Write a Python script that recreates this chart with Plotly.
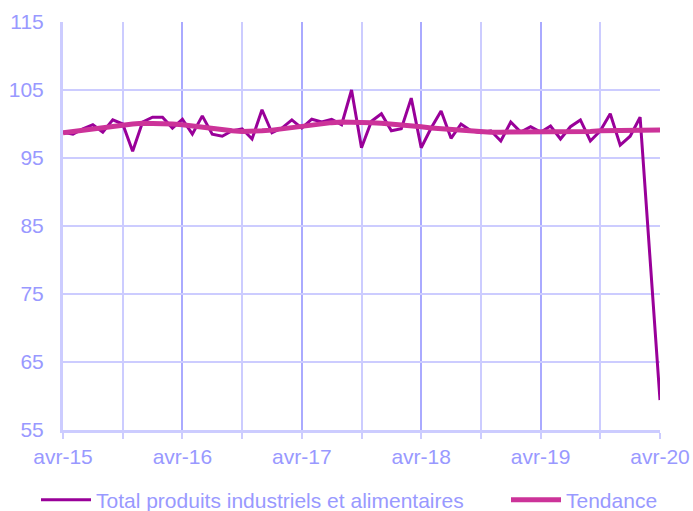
import plotly.graph_objects as go

months = ["avr-15","mai-15","juin-15","juil-15","août-15","sept-15","oct-15","nov-15","déc-15","janv-16","févr-16","mars-16",
          "avr-16","mai-16","juin-16","juil-16","août-16","sept-16","oct-16","nov-16","déc-16","janv-17","févr-17","mars-17",
          "avr-17","mai-17","juin-17","juil-17","août-17","sept-17","oct-17","nov-17","déc-17","janv-18","févr-18","mars-18",
          "avr-18","mai-18","juin-18","juil-18","août-18","sept-18","oct-18","nov-18","déc-18","janv-19","févr-19","mars-19",
          "avr-19","mai-19","juin-19","juil-19","août-19","sept-19","oct-19","nov-19","déc-19","janv-20","févr-20","mars-20",
          "avr-20"]

total = [98.8, 98.5, 99.3, 99.9, 98.8, 100.6, 100.0, 96.0, 100.3, 101.0, 101.0, 99.4,
         100.7, 98.5, 101.2, 98.5, 98.2, 99.0, 99.3, 97.8, 102.1, 98.7, 99.4, 100.6,
         99.4, 100.7, 100.3, 100.7, 99.9, 105.0, 96.5, 100.4, 101.5, 99.0, 99.3, 103.8,
         96.5, 99.4, 101.9, 97.9, 100.0, 99.0, 98.7, 99.0, 97.5, 100.3, 98.8, 99.6,
         98.8, 99.7, 97.8, 99.6, 100.6, 97.5, 99.0, 101.5, 96.9, 98.2, 101.0, 80.0,
         59.4]

tendance = [98.7, 98.9, 99.1, 99.3, 99.5, 99.7, 99.9, 100.0, 100.1, 100.1, 100.1, 100.0,
            99.9, 99.7, 99.5, 99.3, 99.1, 99.0, 98.9, 98.9, 99.0, 99.1, 99.3, 99.5,
            99.7, 99.9, 100.1, 100.2, 100.3, 100.3, 100.3, 100.2, 100.1, 100.0, 99.9, 99.7,
            99.6, 99.4, 99.3, 99.1, 99.0, 98.9, 98.8, 98.8, 98.8, 98.8, 98.8, 98.8,
            98.8, 98.8, 98.8, 98.9, 98.9, 98.9, 99.0, 99.0, 99.0, 99.0, 99.1, 99.1,
            99.1]

tick_idx = [0, 12, 24, 36, 48, 60]
tick_labels = [months[i] for i in tick_idx]

x = list(range(len(months)))
lav = "#9999FF"
grid = "#CCCCFF"

fig = go.Figure()
fig.add_trace(go.Scatter(x=x, y=total, mode="lines", name="Total produits industriels et alimentaires",
                         line=dict(color="#990099", width=3), hovertext=months, legend="legend"))
fig.add_trace(go.Scatter(x=x, y=tendance, mode="lines", name="Tendance",
                         line=dict(color="#CC3399", width=5), hovertext=months, legend="legend2"))

W, H = 693, 511
leg_common = dict(orientation="h", yref="paper", y=-0.1716, yanchor="middle", xref="container",
                  xanchor="left", font=dict(size=21, color=lav), itemwidth=50,
                  bgcolor="rgba(0,0,0,0)")

fig.update_layout(
    width=W, height=H,
    margin=dict(l=63, r=33, t=22, b=81, autoexpand=False),
    paper_bgcolor="white", plot_bgcolor="white",
    font=dict(family="Liberation Sans, Arial, sans-serif", size=21, color=lav),
    showlegend=True,
    legend=dict(x=36 / W, **leg_common),
    legend2=dict(x=506 / W, **leg_common),
)
fig.update_xaxes(
    range=[0, 60], tickmode="array", tickvals=tick_idx, ticktext=tick_labels,
    showgrid=True, gridcolor="#AAAAFF", gridwidth=1.5,
    minor=dict(dtick=6, tick0=0, showgrid=True, gridcolor=grid, gridwidth=1.5,
               ticks="outside", ticklen=6, tickcolor=grid, tickwidth=1.5),
    ticks="outside", ticklen=6, tickcolor=grid, tickwidth=1.5,
    showline=True, linecolor=grid, linewidth=3, mirror=False, automargin=False,
    zeroline=False, tickfont=dict(size=21, color=lav), ticklabelstandoff=0,
    ticklabeloverflow="allow",
)
fig.update_yaxes(
    range=[55, 115], tick0=55, dtick=10,
    showgrid=True, gridcolor=grid, gridwidth=1.5,
    showline=True, linecolor=grid, linewidth=3, automargin=False,
    zeroline=False, ticks="", tickfont=dict(size=21, color=lav), ticklabelstandoff=12,
)

fig.write_html("out.html", config={"displayModeBar": False},
               post_script="document.body.style.margin='0';document.body.style.overflow='hidden';")
